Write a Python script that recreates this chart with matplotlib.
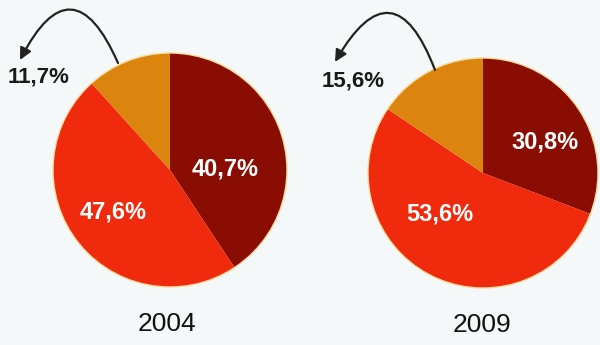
import matplotlib.pyplot as plt
from matplotlib.patches import Circle, FancyArrowPatch

# Datos
years = ['2004', '2009']
dark_share = [40.7, 30.8]
red_share = [47.6, 53.6]
orange_share = [11.7, 15.6]
colors = ['#8a0d03', '#f02a0c', '#db840e']

pct_font = ['Liberation Sans Narrow', 'Liberation Sans', 'DejaVu Sans']
year_font = ['Liberation Sans', 'DejaVu Sans']

def fmt(v):
    return f'{v:.1f}%'.replace('.', ',')

fig = plt.figure(figsize=(6, 3.45), dpi=100)
fig.patch.set_facecolor('#f5f8f8')
ax = fig.add_axes([0, 0, 1, 1])

# centro, radio y posiciones de textos (en píxeles, y hacia arriba)
centers = [(170, 175), (483, 172)]
radii = [117, 115]
dark_pos = [(225, 176), (545, 203)]
red_pos = [(113, 133), (440, 131)]
orange_pos = [(39, 268), (353, 264)]
arrow_from = [(118, 282), (435, 275)]
arrow_to = [(20, 285), (335, 283)]
year_pos = [(167, 21), (482, 20)]

for i in range(2):
    vals = [dark_share[i], red_share[i], orange_share[i]]
    ax.pie(vals, colors=colors, startangle=90, counterclock=False,
           center=centers[i], radius=radii[i],
           wedgeprops=dict(linewidth=0))
    ax.add_patch(Circle(centers[i], radii[i], fill=False,
                        edgecolor='#f4dca0', lw=1.0))

    ax.text(*dark_pos[i], fmt(dark_share[i]), color='white', fontsize=17,
            fontweight='bold', family=pct_font, ha='center', va='center')
    ax.text(*red_pos[i], fmt(red_share[i]), color='white', fontsize=17,
            fontweight='bold', family=pct_font, ha='center', va='center')
    ax.text(*orange_pos[i], fmt(orange_share[i]), color='#1a1a1a', fontsize=16,
            fontweight='bold', family=pct_font, ha='center', va='center')

    arr = FancyArrowPatch(arrow_from[i], arrow_to[i],
                          connectionstyle='arc3,rad=1.05',
                          arrowstyle='-|>,head_length=7,head_width=3.5',
                          color='#222222', lw=1.6, shrinkA=0, shrinkB=0)
    ax.add_patch(arr)

    ax.text(*year_pos[i], years[i], color='#111111', fontsize=19,
            family=year_font, ha='center', va='center')

ax.set_xlim(0, 600)
ax.set_ylim(0, 345)
ax.set_aspect('equal')
ax.axis('off')

fig.savefig('out.png', dpi=100, facecolor=fig.get_facecolor())
